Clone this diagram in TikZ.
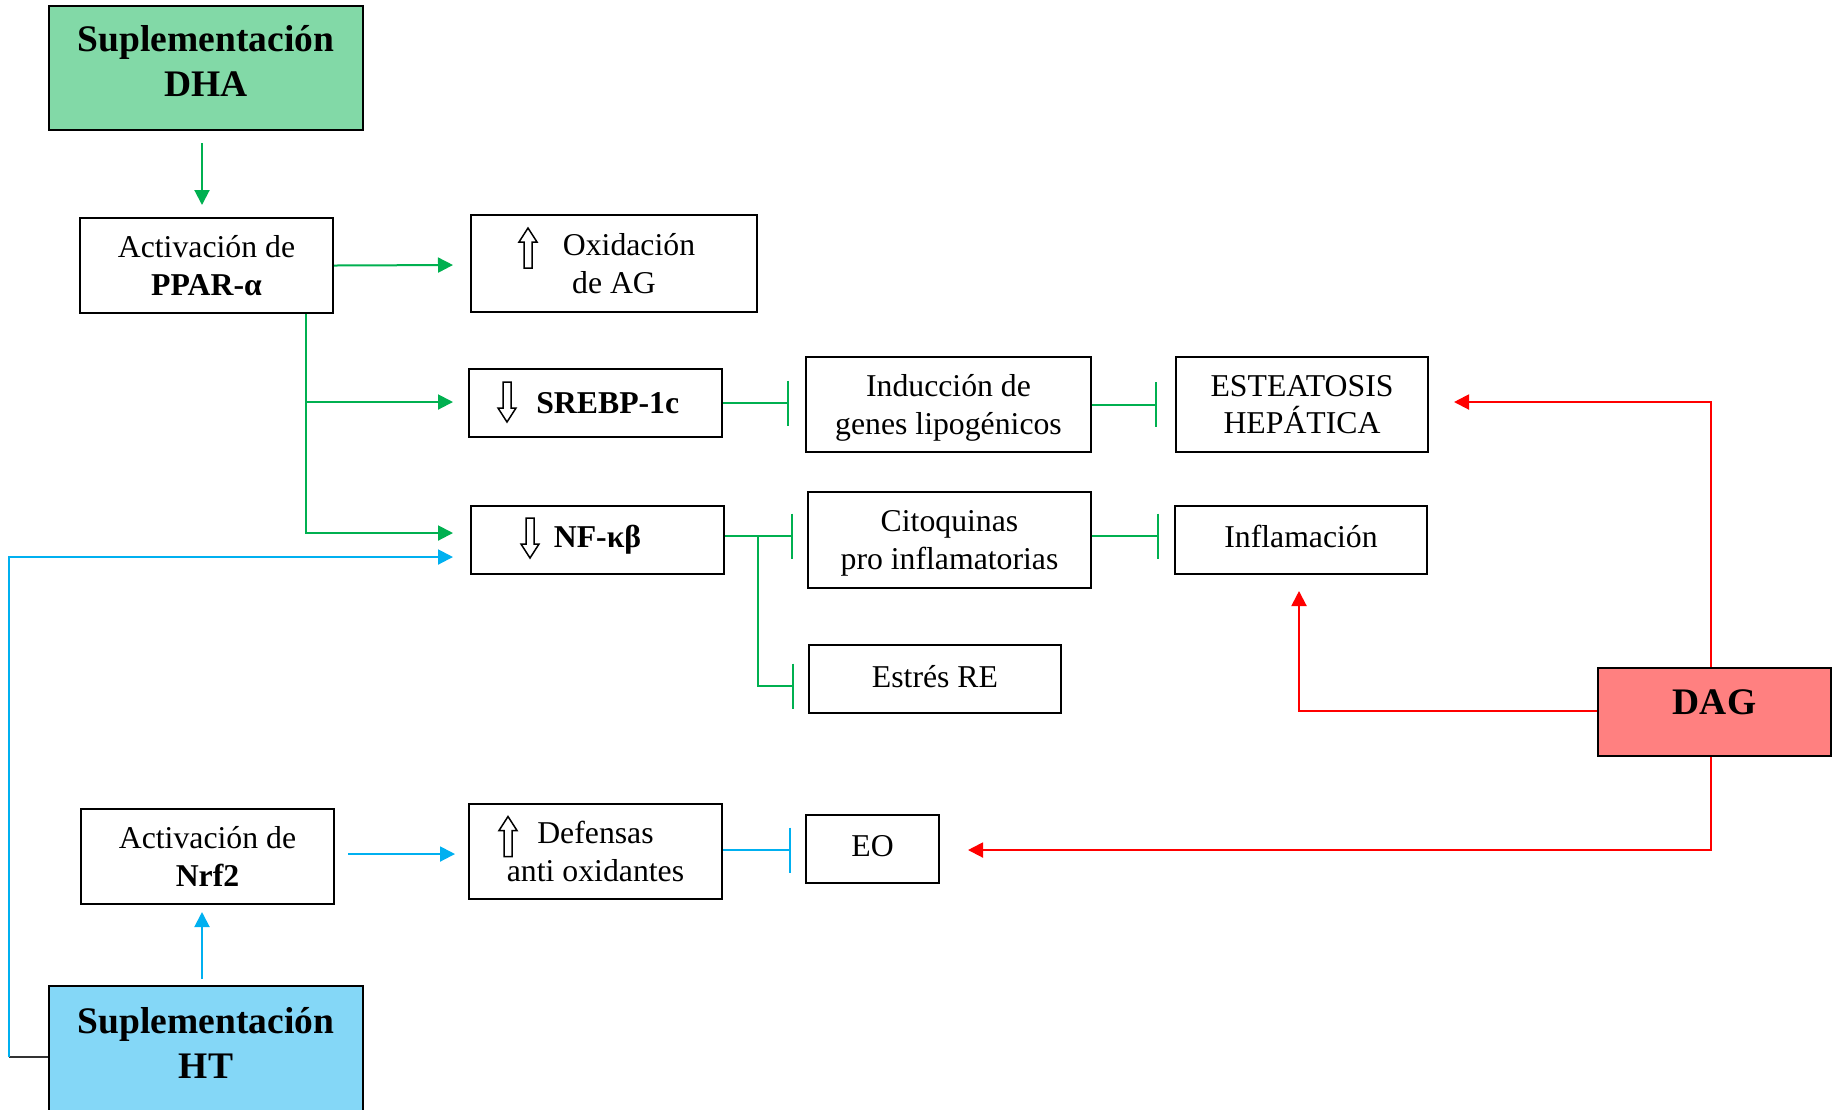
\documentclass[tikz,border=0pt]{standalone}
\usepackage{fontspec}
\setmainfont{Liberation Serif}
\usetikzlibrary{arrows.meta,calc}
\definecolor{dhafill}{HTML}{82D9A7}
\definecolor{htfill}{HTML}{84D7F7}
\definecolor{dagfill}{HTML}{FF8080}
\definecolor{lgreen}{HTML}{00B050}
\definecolor{lblue}{HTML}{00B0F0}
\definecolor{lred}{HTML}{FF0000}
\tikzset{
  bx/.style 2 args={draw=black, line width=0.8pt, minimum width=#1*0.4pt, minimum height=#2*0.4pt,
     inner sep=0pt, align=center, font=\fontsize{12.7}{15}\selectfont},
  big/.style={font=\fontsize{15}{18}\selectfont\bfseries},
  gline/.style={draw=lgreen, line width=0.8pt},
  bline/.style={draw=lblue, line width=0.8pt},
  rline/.style={draw=lred, line width=0.8pt},
  tri/.style={-{Triangle[length=6pt,width=6pt]}},
  tbar/.style={-{Bar[width=18pt]}},
  uparr/.pic={\draw[line width=0.6pt, fill=white] (0,-20) -- (9,-6) -- (4,-6) -- (4,20) -- (-4,20) -- (-4,-6) -- (-9,-6) -- cycle;},
  dnarr/.pic={\draw[line width=0.6pt, fill=white] (0,20) -- (9,6) -- (4,6) -- (4,-20) -- (-4,-20) -- (-4,6) -- (-9,6) -- cycle;},
}
\begin{document}
\begin{tikzpicture}[x=0.4pt,y=-0.4pt]
\path[fill=white,use as bounding box] (0,0) rectangle (1838,1109);

% boxes
\node[bx={314}{124}, fill=dhafill, big, text depth=5.6pt] (dha) at (206,68) {Suplementación\\DHA};
\node[bx={253}{95}] (ppar) at (206.5,265.5) {Activación de\\\textbf{PPAR-α}};
\node[bx={286}{97}] (oxid) at (614,263.5) {\hspace*{12pt}Oxidación\\de AG};
\node[bx={253}{68}] (srebp) at (595.5,403) {\hspace*{9.8pt}\textbf{SREBP-1c}};
\node[bx={253}{68}] (nfkb) at (597.5,540) {\textbf{NF-κβ}};
\node[bx={285}{95}, text depth=0pt] (induc) at (948.5,404.5) {Inducción de\\genes lipogénicos};
\node[bx={252}{95}, text depth=-1.5pt] (estea) at (1302,404.5) {ESTEATOSIS\\HEPÁTICA};
\node[bx={283}{96}, text depth=0pt] (cito) at (949.5,540) {Citoquinas\\pro inflamatorias};
\node[bx={252}{68}, text depth=2.8pt] (infl) at (1301,540) {Inflamación};
\node[bx={252}{68}, text depth=1.9pt] (estres) at (935,679) {Estrés RE};
\node[bx={233}{88}, fill=dagfill, big, text depth=8pt] (dag) at (1714.5,712) {DAG};
\node[bx={253}{95}] (nrf) at (207.5,856.5) {Activación de\\\textbf{Nrf2}};
\node[bx={253}{95}] (def) at (595.5,851.5) {Defensas\\anti oxidantes};
\node[bx={133}{68}, text depth=2.8pt] (eo) at (872.5,849) {EO};
\node[bx={314}{128}, fill=htfill, big, text depth=5.6pt] (ht) at (206,1050) {Suplementación\\HT};

% hollow arrows
\pic at (528,248) {uparr};
\pic at (508,836.5) {uparr};
\pic at (507,402) {dnarr};
\pic at (530,538) {dnarr};

% green connectors
\draw[gline,tri] ($(dha.south)+(-4,12)$) -- ($(ppar.north)+(-4.5,-12)$);
\draw[gline,tri] (ppar.east) -- ($(oxid.west)+(-17,1.5)$);
\coordinate (gb) at ($(ppar.south)+(99.5,0)$);
\draw[gline,tri] (gb) |- ($(nfkb.west)+(-17,-7)$);
\draw[gline,tri] ($(gb |- srebp.west)+(0,-1)$) -- ($(srebp.west)+(-15,-1)$);
\draw[gline,tbar] (srebp.east) -- ($(induc.west)+(-16,-1.5)$);
\draw[gline,tbar] (induc.east) -- ($(estea.west)+(-18,0)$);
\draw[gline,tbar] ($(nfkb.east)+(0,-4)$) -- ($(cito.west)+(-14,-4)$);
\coordinate (nb) at ($(nfkb.east)+(33,-4)$);
\draw[gline,tbar] (nb) |- ($(estres.west)+(-14,7)$);
\draw[gline,tbar] ($(cito.east)+(0,-4)$) -- ($(infl.west)+(-15,-4)$);

% blue connectors
\coordinate (bc) at ($(ht.west)+(-39,7)$);
\draw[line width=0.8pt, black!80] ($(ht.west)+(0,7)$) -- (bc);
\draw[bline,tri] (bc) |- ($(nfkb.west)+(-17,17)$);
\draw[bline,tri] ($(ht.north)+(-4,-6)$) -- ($(nrf.south)+(-5.5,7)$);
\draw[bline,tri] ($(nrf.east)+(13,-2.5)$) -- ($(def.west)+(-13,2.5)$);
\draw[bline,tbar] ($(def.east)+(0,-1.5)$) -- ($(eo.west)+(-14,1)$);

% red connectors
\draw[rline,tri] ($(dag.north)+(-3.5,0)$) |- ($(estea.east)+(25,-2.5)$);
\draw[rline,tri] ($(dag.west)+(0,-1)$) -| ($(infl.south)+(-2,16)$);
\draw[rline,tri] ($(dag.south)+(-3.5,0)$) |- ($(eo.east)+(28,1)$);
\end{tikzpicture}
\end{document}
